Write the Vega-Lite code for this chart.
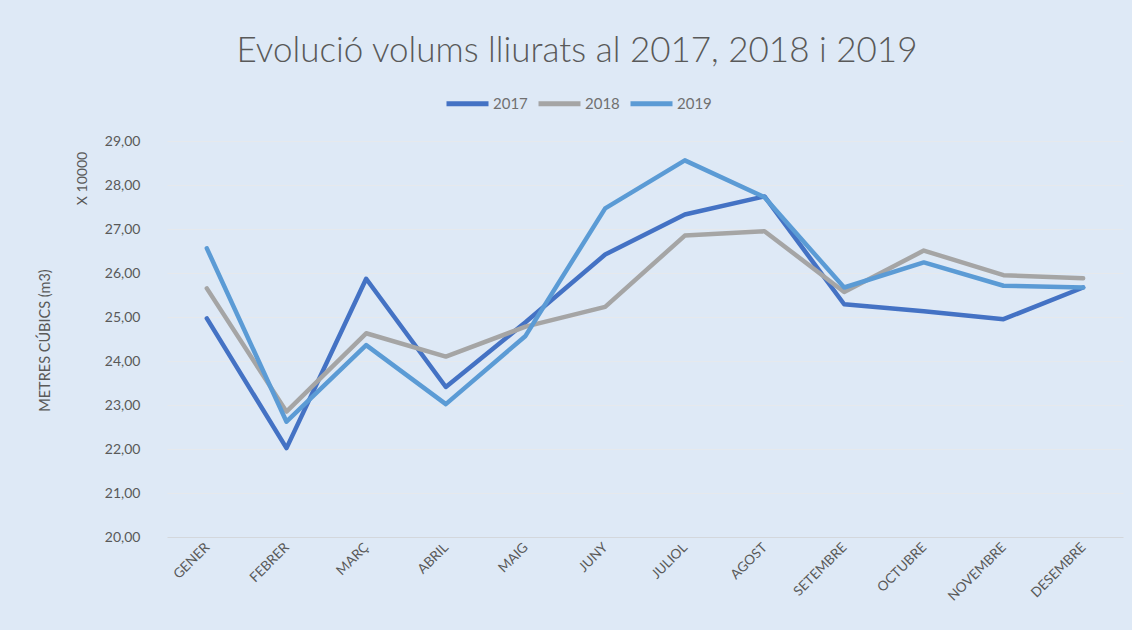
{
  "$schema": "https://vega.github.io/schema/vega-lite/v6.json",
  "width": 956,
  "height": 396,
  "autosize": {"type": "none"},
  "padding": {"left": 167, "top": 141, "right": 9, "bottom": 93},
  "background": "#DEE9F6",
  "title": {
    "text": "Evolució volums lliurats al 2017, 2018 i 2019",
    "frame": "group",
    "anchor": "middle",
    "dx": -68,
    "offset": 11,
    "fontSize": 35,
    "font": "Lato",
    "fontWeight": 300,
    "color": "#595959"
  },
  "config": {
    "locale": {"number": {"decimal": ",", "thousands": ".", "grouping": [3], "currency": ["", " €"]}},
    "view": {"stroke": null},
    "font": "Lato"
  },
  "data": {
    "values": [
      {"mes": "GENER", "any": "2017", "valor": 24.97},
      {"mes": "FEBRER", "any": "2017", "valor": 22.02},
      {"mes": "MARÇ", "any": "2017", "valor": 25.87},
      {"mes": "ABRIL", "any": "2017", "valor": 23.41},
      {"mes": "MAIG", "any": "2017", "valor": 24.88},
      {"mes": "JUNY", "any": "2017", "valor": 26.42},
      {"mes": "JULIOL", "any": "2017", "valor": 27.33},
      {"mes": "AGOST", "any": "2017", "valor": 27.74},
      {"mes": "SETEMBRE", "any": "2017", "valor": 25.29},
      {"mes": "OCTUBRE", "any": "2017", "valor": 25.13},
      {"mes": "NOVEMBRE", "any": "2017", "valor": 24.95},
      {"mes": "DESEMBRE", "any": "2017", "valor": 25.67},
      {"mes": "GENER", "any": "2018", "valor": 25.65},
      {"mes": "FEBRER", "any": "2018", "valor": 22.85},
      {"mes": "MARÇ", "any": "2018", "valor": 24.63},
      {"mes": "ABRIL", "any": "2018", "valor": 24.1},
      {"mes": "MAIG", "any": "2018", "valor": 24.78},
      {"mes": "JUNY", "any": "2018", "valor": 25.23},
      {"mes": "JULIOL", "any": "2018", "valor": 26.85},
      {"mes": "AGOST", "any": "2018", "valor": 26.95},
      {"mes": "SETEMBRE", "any": "2018", "valor": 25.57},
      {"mes": "OCTUBRE", "any": "2018", "valor": 26.51},
      {"mes": "NOVEMBRE", "any": "2018", "valor": 25.95},
      {"mes": "DESEMBRE", "any": "2018", "valor": 25.88},
      {"mes": "GENER", "any": "2019", "valor": 26.56},
      {"mes": "FEBRER", "any": "2019", "valor": 22.62},
      {"mes": "MARÇ", "any": "2019", "valor": 24.36},
      {"mes": "ABRIL", "any": "2019", "valor": 23.02},
      {"mes": "MAIG", "any": "2019", "valor": 24.57},
      {"mes": "JUNY", "any": "2019", "valor": 27.47},
      {"mes": "JULIOL", "any": "2019", "valor": 28.56},
      {"mes": "AGOST", "any": "2019", "valor": 27.72},
      {"mes": "SETEMBRE", "any": "2019", "valor": 25.67},
      {"mes": "OCTUBRE", "any": "2019", "valor": 26.24},
      {"mes": "NOVEMBRE", "any": "2019", "valor": 25.71},
      {"mes": "DESEMBRE", "any": "2019", "valor": 25.67}
    ]
  },
  "layer": [
    {
      "mark": {"type": "line", "strokeWidth": 4.5, "strokeJoin": "round", "strokeCap": "round"},
      "encoding": {
        "x": {
          "field": "mes",
          "type": "nominal",
          "sort": null,
          "scale": {"type": "point", "padding": 0.5},
          "axis": {
            "title": null,
            "labelAngle": -45,
            "labelAlign": "right",
            "labelBaseline": "middle",
            "labelPadding": 8,
            "labelFontSize": 13.5,
            "labelColor": "#595959",
            "labelOverlap": false,
            "ticks": false,
            "domain": true,
            "domainColor": "#D3D7DC",
            "domainWidth": 1,
            "grid": false
          }
        },
        "y": {
          "field": "valor",
          "type": "quantitative",
          "scale": {"domain": [20, 29], "nice": false, "zero": false},
          "axis": {
            "orient": "left",
            "title": "METRES CÚBICS (m3)",
            "titleFontSize": 14.5,
            "titleFontWeight": "normal",
            "titleColor": "#595959",
            "titleX": -115,
            "titleY": 199,
            "titleAngle": -90,
            "titleAlign": "center",
            "titleBaseline": "bottom",
            "format": ".2f",
            "values": [20, 21, 22, 23, 24, 25, 26, 27, 28, 29],
            "labelOverlap": false,
            "labelFontSize": 14,
            "labelColor": "#595959",
            "labelPadding": 27,
            "ticks": false,
            "domain": false,
            "grid": true,
            "gridColor": "#E6E9ED",
            "gridWidth": 1
          }
        },
        "color": {
          "field": "any",
          "type": "nominal",
          "scale": {"domain": ["2017", "2018", "2019"], "range": ["#4472C4", "#A5A5A5", "#5B9BD5"]},
          "legend": {
            "title": null,
            "orient": "none",
            "direction": "horizontal",
            "legendX": 277,
            "legendY": -61,
            "symbolType": "stroke",
            "symbolSize": 1764,
            "symbolStrokeWidth": 5,
            "labelFontSize": 15,
            "labelColor": "#707070",
            "labelOffset": 2,
            "columnPadding": 0
          }
        }
      }
    },
    {
      "mark": {"type": "point", "opacity": 0},
      "encoding": {
        "y": {
          "field": "valor",
          "type": "quantitative",
          "axis": {
            "orient": "left",
            "title": "X 10000",
            "titleFontSize": 14,
            "titleFontWeight": "normal",
            "titleColor": "#595959",
            "titleX": -78,
            "titleY": 37,
            "titleAngle": -90,
            "titleAlign": "center",
            "titleBaseline": "bottom",
            "labels": false,
            "ticks": false,
            "domain": false,
            "grid": false
          }
        }
      }
    }
  ],
  "resolve": {"axis": {"y": "independent"}}
}
